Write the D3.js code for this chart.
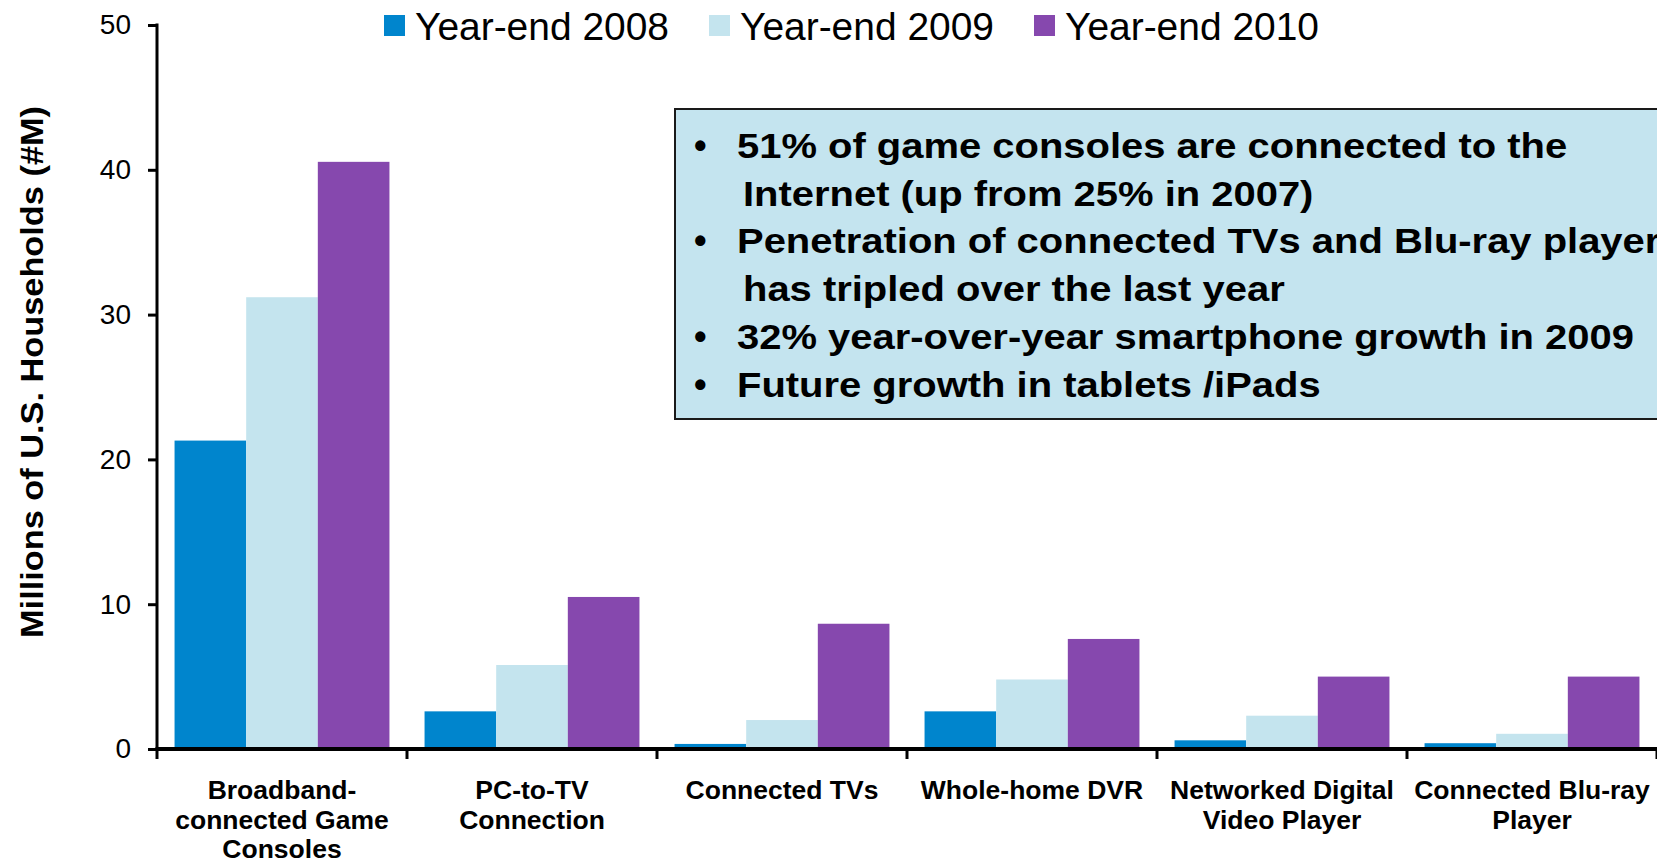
<!DOCTYPE html>
<html>
<head>
<meta charset="utf-8">
<script src="https://cdn.jsdelivr.net/npm/d3@7"></script>
<style>
  body { margin: 0; background: #fff; }
  svg { display: block; font-family: "Liberation Sans", Arial, sans-serif; }
</style>
</head>
<body>
<div id="chart"></div>
<script>
let categories = [
  ["Broadband-", "connected Game", "Consoles"],
  ["PC-to-TV", "Connection"],
  ["Connected TVs"],
  ["Whole-home DVR"],
  ["Networked Digital", "Video Player"],
  ["Connected Blu-ray", "Player"]
];
let seriesNames = ["Year-end 2008", "Year-end 2009", "Year-end 2010"];
let values2008 = [21.3, 2.6, 0.35, 2.6, 0.6, 0.4];
let values2009 = [31.2, 5.8, 2.0, 4.8, 2.3, 1.05];
let values2010 = [40.55, 10.5, 8.65, 7.6, 5.0, 5.0];
let yTicks = [0, 10, 20, 30, 40, 50];
let bullets = [
  ["51% of game consoles are connected to the", "Internet (up from 25% in 2007)"],
  ["Penetration of connected TVs and Blu-ray players", "has tripled over the last year"],
  ["32% year-over-year smartphone growth in 2009"],
  ["Future growth in tablets /iPads"]
];

let colors = ["#0085cd", "#c4e4ee", "#8648ae"];
let W = 1657, H = 864;
let plotLeft = 157, plotRight = 1657, plotTop = 25, plotBottom = 749;

let series = [values2008, values2009, values2010];
let rows = categories.map(function(c, i) {
  return { key: i, label: c, vals: series.map(function(s, j) { return { name: seriesNames[j], v: s[i] }; }) };
});

let svg = d3.select("#chart").append("svg")
  .attr("width", W)
  .attr("height", H);

let x0 = d3.scaleBand()
  .domain(rows.map(function(d) { return d.key; }))
  .range([plotLeft, plotRight])
  .paddingInner(0).paddingOuter(0);

let x1 = d3.scaleBand()
  .domain(seriesNames)
  .range([0, x0.bandwidth()])
  .paddingInner(0).paddingOuter(0.245);

let y = d3.scaleLinear()
  .domain([0, 50])
  .range([plotBottom, plotTop]);

let color = d3.scaleOrdinal().domain(seriesNames).range(colors);

// bars
svg.append("g").selectAll("g")
  .data(rows)
  .join("g")
  .attr("transform", function(d) { return "translate(" + x0(d.key) + ",0)"; })
  .selectAll("rect")
  .data(function(d) { return d.vals; })
  .join("rect")
  .attr("x", function(d) { return x1(d.name); })
  .attr("y", function(d) { return y(d.v); })
  .attr("width", x1.bandwidth())
  .attr("height", function(d) { return y(0) - y(d.v); })
  .attr("fill", function(d) { return color(d.name); });

// y axis
let yAxis = d3.axisLeft(y).tickValues(yTicks).tickSize(9).tickPadding(17).tickFormat(d3.format("d"));
let gy = svg.append("g")
  .attr("transform", "translate(" + plotLeft + ",0)")
  .call(yAxis);
gy.select(".domain").remove();
gy.selectAll(".tick line").attr("stroke", "#000").attr("stroke-width", 3);
gy.selectAll(".tick text")
  .style("font-family", "'Liberation Sans', Arial, sans-serif")
  .style("font-size", "28px")
  .attr("fill", "#000");
svg.append("line")
  .attr("x1", plotLeft).attr("x2", plotLeft)
  .attr("y1", plotTop - 1.5).attr("y2", plotBottom)
  .attr("stroke", "#000").attr("stroke-width", 3);

// x axis with ticks between groups
let xTickPos = rows.map(function(d) { return x0(d.key) + x0.bandwidth(); });
svg.append("line")
  .attr("x1", plotLeft - 1.5).attr("x2", plotRight)
  .attr("y1", plotBottom).attr("y2", plotBottom)
  .attr("stroke", "#000").attr("stroke-width", 4);
svg.append("g").selectAll("line")
  .data([plotLeft].concat(xTickPos))
  .join("line")
  .attr("x1", function(d) { return d; }).attr("x2", function(d) { return d; })
  .attr("y1", plotBottom).attr("y2", plotBottom + 10)
  .attr("stroke", "#000").attr("stroke-width", 3);

// category labels
svg.append("g").selectAll("text")
  .data(rows)
  .join("text")
  .attr("text-anchor", "middle")
  .style("font-size", "26.5px")
  .style("font-weight", "bold")
  .attr("transform", function(d) { return "translate(" + (x0(d.key) + x0.bandwidth() / 2) + ",799)"; })
  .selectAll("tspan")
  .data(function(d) { return d.label; })
  .join("tspan")
  .attr("x", 0)
  .attr("y", function(d, i) { return i * 29.5; })
  .text(function(d) { return d; });

// y title
svg.append("text")
  .attr("transform", "translate(43,372) rotate(-90)")
  .attr("text-anchor", "middle")
  .attr("textLength", 532)
  .attr("lengthAdjust", "spacingAndGlyphs")
  .style("font-size", "31px")
  .style("font-weight", "bold")
  .text("Millions of U.S. Households (#M)");

// legend
let legend = svg.append("g");
let lx = 384;
seriesNames.forEach(function(name) {
  legend.append("rect")
    .attr("x", lx).attr("y", 15)
    .attr("width", 21).attr("height", 21)
    .attr("fill", color(name));
  legend.append("text")
    .attr("x", lx + 31).attr("y", 40)
    .attr("textLength", 254)
    .attr("lengthAdjust", "spacingAndGlyphs")
    .style("font-size", "38px")
    .text(name);
  lx = lx + 31 + 254 + 40;
});

// note box
let box = svg.append("g");
box.append("rect")
  .attr("x", 675).attr("y", 109)
  .attr("width", 1100).attr("height", 310)
  .attr("fill", "#c4e4ef")
  .attr("stroke", "#1a1a1a")
  .attr("stroke-width", 2);

let lineY = 158;
let txt = box.append("g").style("font-size", "36px").style("font-weight", "bold");
bullets.forEach(function(b) {
  txt.append("text")
    .attr("x", 694).attr("y", lineY)
    .text("\u2022");
  b.forEach(function(line, i) {
    txt.append("text")
      .attr("transform", "translate(" + (i === 0 ? 737 : 743) + "," + lineY + ") scale(1.11,1)")
      .text(line);
    lineY += 47.7;
  });
});
</script>
</body>
</html>
